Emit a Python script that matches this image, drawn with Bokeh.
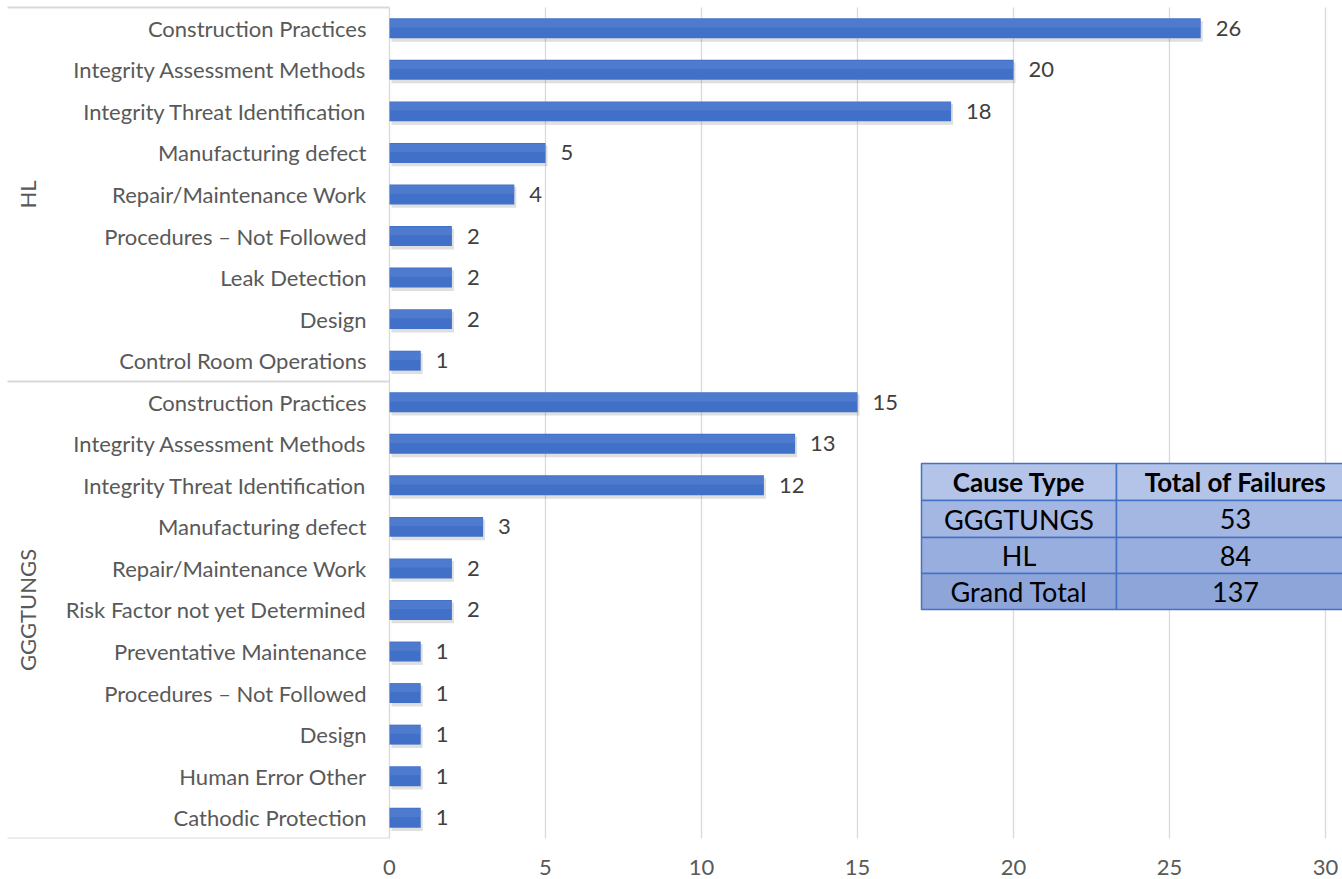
from bokeh.plotting import figure
from bokeh.models import Range1d, FixedTicker, ColumnDataSource
from bokeh.core.properties import value
from bokeh.embed import file_html
from bokeh.resources import INLINE

# ---- data ----
groups = ["HL", "GGGTUNGS"]
hl_causes = ["Construction Practices", "Integrity Assessment Methods", "Integrity Threat Identification",
             "Manufacturing defect", "Repair/Maintenance Work", "Procedures \u2013 Not Followed",
             "Leak Detection", "Design", "Control Room Operations"]
hl_values = [26, 20, 18, 5, 4, 2, 2, 2, 1]
gg_causes = ["Construction Practices", "Integrity Assessment Methods", "Integrity Threat Identification",
             "Manufacturing defect", "Repair/Maintenance Work", "Risk Factor not yet Determined",
             "Preventative Maintenance", "Procedures \u2013 Not Followed", "Design", "Human Error Other",
             "Cathodic Protection"]
gg_values = [15, 13, 12, 3, 2, 2, 1, 1, 1, 1, 1]
x_ticks = [0, 5, 10, 15, 20, 25, 30]
table_header = ["Cause Type", "Total of Failures"]
table_types = ["GGGTUNGS", "HL", "Grand Total"]
table_totals = [53, 84, 137]

# ---- layout helpers (pixels -> data) ----
W, H = 1342, 879
X0_PX, X30_PX = 389, 1325
PXU = (X30_PX - X0_PX) / 30.0
TOP_PX, BOT_PX = 7, 838
BAND = (BOT_PX - TOP_PX) / 20.0

def px_x(px):
    return (px - X0_PX) / PXU

def px_y(py):
    return -0.5 + (py - TOP_PX) / BAND

FONT = "Lato"
GREY = "#595959"
LBL_SIZE = "22px"

causes = hl_causes + gg_causes
vals = hl_values + gg_values
ys = list(range(len(causes)))
src = ColumnDataSource(dict(y=ys, v=vals, c=causes, lbl=[str(v) for v in vals]))

p = figure(width=W, height=H, output_backend="svg", toolbar_location=None,
           x_range=Range1d(px_x(0), px_x(W)), y_range=Range1d(19.5, px_y(0)),
           min_border_left=0, min_border_right=0, min_border_top=0, min_border_bottom=H - BOT_PX)
p.outline_line_color = None
p.xgrid.visible = False
p.ygrid.visible = False
p.yaxis.visible = False
p.xaxis.ticker = FixedTicker(ticks=x_ticks)
p.xaxis.axis_line_color = None
p.xaxis.major_tick_line_color = None
p.xaxis.minor_tick_line_color = None
p.xaxis.major_label_text_font = FONT
p.xaxis.major_label_text_font_size = LBL_SIZE
p.xaxis.major_label_text_color = GREY
p.xaxis.major_label_standoff = 15

# gridlines
p.segment(x0=x_ticks, x1=x_ticks, y0=[-0.5] * len(x_ticks), y1=[19.5] * len(x_ticks),
          line_color="#d9d9d9", line_width=1.3)

# category axis lines (top, group separator, bottom)
n_hl = len(hl_causes)
sep_y = [-0.5, n_hl - 0.5, len(causes) - 0.5]
p.segment(x0=[px_x(7)] * 3, x1=[0] * 3, y0=sep_y, y1=sep_y, line_color="#d9d9d9", line_width=2)

# bars with soft shadow
shadow = ColumnDataSource(dict(y=[y + 3.0 / BAND for y in ys], v=[v + 2.0 / PXU for v in vals]))
p.hbar(y="y", right="v", left=2.0 / PXU, height=0.5, source=shadow, fill_color="#808080",
       fill_alpha=0.25, line_color=None)
p.hbar(y="y", right="v", left=0, height=0.48, source=src, fill_color="#4170c8", line_color=None)
p.hbar(y="y", right="v", left=0, height=0.2, source=ColumnDataSource(dict(y=[y - 0.12 for y in ys], v=vals)),
       fill_color="#6a8fdb", fill_alpha=0.35, line_color=None)

# value labels
p.text(x="v", y="y", text="lbl", source=src, x_offset=15, text_align="left", text_baseline="middle",
       text_font=value(FONT), text_font_size=LBL_SIZE, text_color="#404040")

# category labels
p.text(x=0, y="y", text="c", source=src, x_offset=-23, text_align="right", text_baseline="middle",
       text_font=value(FONT), text_font_size=LBL_SIZE, text_color=GREY)

# group labels
group_centers = [(n_hl - 1) / 2.0, n_hl + (len(gg_causes) - 1) / 2.0]
p.text(x=[0, 0], y=group_centers, text=groups, x_offset=-362, angle=1.5708, text_align="center",
       text_baseline="middle", text_font=value(FONT), text_font_size=LBL_SIZE, text_color=GREY)

# summary table
col_px = [921, 1116, 1354]
row_px = [463, 500, 537, 573, 609]
row_colors = ["#b3c4e8", "#a4b7e2", "#98aede", "#8ea5da"]
cells = dict(l=[], r=[], t=[], b=[], f=[])
for ri in range(4):
    for ci in range(2):
        cells["l"].append(px_x(col_px[ci]))
        cells["r"].append(px_x(col_px[ci + 1]))
        cells["t"].append(px_y(row_px[ri]))
        cells["b"].append(px_y(row_px[ri + 1]))
        cells["f"].append(row_colors[ri])
p.quad(left="l", right="r", top="t", bottom="b", fill_color="f", line_color="#4472c4", line_width=1.5,
       source=ColumnDataSource(cells))

cx = [(px_x(col_px[0]) + px_x(col_px[1])) / 2, (px_x(col_px[1]) + px_x(col_px[2])) / 2]
ry = [(px_y(row_px[i]) + px_y(row_px[i + 1])) / 2 for i in range(4)]
p.text(x=cx, y=[ry[0]] * 2, text=table_header, text_align="center", text_baseline="middle",
       text_font=value(FONT), text_font_size="26px", text_font_style="bold", text_color="#000000")
p.text(x=[cx[0]] * 3, y=ry[1:], text=table_types, text_align="center", text_baseline="middle",
       text_font=value(FONT), text_font_size="27px", text_color="#000000")
p.text(x=[cx[1]] * 3, y=ry[1:], text=[str(t) for t in table_totals], text_align="center",
       text_baseline="middle", text_font=value(FONT), text_font_size="27px", text_color="#000000")

open("out.html", "w").write(file_html(p, INLINE))
